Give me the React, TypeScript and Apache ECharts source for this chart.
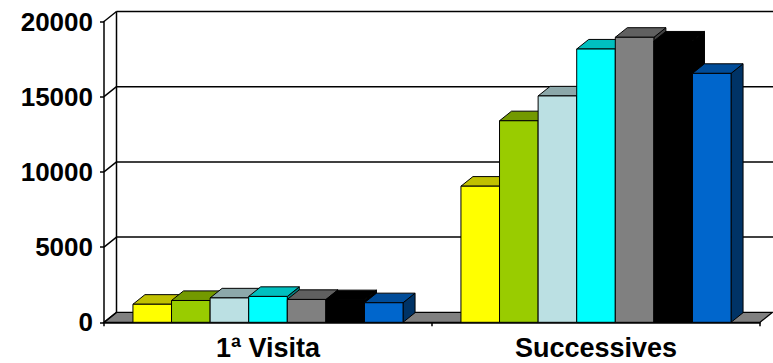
import React, { useEffect, useRef } from "react";
import * as echarts from "echarts";

const categories = ["1ª Visita", "Successives"];
const yTicks = [0, 5000, 10000, 15000, 20000];

const yellowValues = [1200, 9050];
const greenValues = [1450, 13400];
const lightBlueValues = [1620, 15050];
const cyanValues = [1720, 18170];
const grayValues = [1520, 18950];
const blackValues = [1500, 18700];
const blueValues = [1300, 16550];

const seriesList = [
  { name: "S1", values: yellowValues, front: "#FFFF00", top: "#C0C000", side: "#808000" },
  { name: "S2", values: greenValues, front: "#99CC00", top: "#739900", side: "#4D6600" },
  { name: "S3", values: lightBlueValues, front: "#BBE0E3", top: "#8CA8AA", side: "#5E7072" },
  { name: "S4", values: cyanValues, front: "#00FFFF", top: "#00BFBF", side: "#008080" },
  { name: "S5", values: grayValues, front: "#808080", top: "#606060", side: "#404040" },
  { name: "S6", values: blackValues, front: "#000000", top: "#000000", side: "#000000" },
  { name: "S7", values: blueValues, front: "#0066CC", top: "#004C99", side: "#003366" },
];

const DX = 12.5;
const DY = -10;
const FONT = "'Liberation Sans', Arial, Helvetica, sans-serif";

export default function App() {
  const ref = useRef<HTMLDivElement>(null);
  useEffect(() => {
    if (!ref.current) return;
    const chart = echarts.init(ref.current, undefined, { renderer: "svg" });
    const n = seriesList.length;

    const background = {
      type: "custom",
      z: 1,
      silent: true,
      clip: false,
      data: [[0, 0]],
      renderItem: (params: any, api: any) => {
        const cs = params.coordSys;
        const x0 = cs.x;
        const x1 = cs.x + cs.width;
        const yb = api.coord([0, 0])[1];
        const yTop = api.coord([0, yTicks[yTicks.length - 1]])[1];
        const line = { stroke: "#000", lineWidth: 1.5 };
        const children: any[] = [];
        children.push({
          type: "polygon",
          shape: { points: [[x0, yb], [x1, yb], [x1 + DX, yb + DY], [x0 + DX, yb + DY]] },
          style: { fill: "#808080", stroke: "#000", lineWidth: 1.2 },
        });
        yTicks.forEach((v) => {
          const y = api.coord([0, v])[1];
          children.push({
            type: "line",
            shape: { x1: x0, y1: y, x2: x0 + DX, y2: y + DY },
            style: line,
          });
          if (v > 0) {
            children.push({
              type: "line",
              shape: { x1: x0 + DX, y1: y + DY, x2: x1 + DX + 20, y2: y + DY },
              style: line,
            });
          }
        });
        children.push({
          type: "line",
          shape: { x1: x0 + DX, y1: yTop + DY, x2: x0 + DX, y2: yb + DY },
          style: line,
        });
        return { type: "group", children };
      },
    };

    const bars = seriesList.map((s, idx) => ({
      type: "custom",
      name: s.name,
      z: 3,
      clip: false,
      data: s.values.map((v, i) => [i, v]),
      renderItem: (params: any, api: any) => {
        const ci = api.value(0);
        const v = api.value(1);
        const c = api.coord([ci, v]);
        const base = api.coord([ci, 0]);
        const band = api.size([1, 0])[0];
        const bw = band / (n + 1.5);
        const left = c[0] - (n / 2) * bw + idx * bw;
        const right = left + bw;
        const yt = c[1];
        const yb = base[1];
        const dx = DX * 0.96;
        const dy = DY * 0.96;
        const st = { stroke: "#000", lineWidth: 1 };
        return {
          type: "group",
          children: [
            {
              type: "polygon",
              shape: { points: [[right, yb], [right + dx, yb + dy], [right + dx, yt + dy], [right, yt]] },
              style: { fill: s.side, ...st },
            },
            {
              type: "polygon",
              shape: { points: [[left, yt], [right, yt], [right + dx, yt + dy], [left + dx, yt + dy]] },
              style: { fill: s.top, ...st },
            },
            {
              type: "rect",
              shape: { x: left, y: yt, width: bw, height: yb - yt },
              style: { fill: s.front, ...st },
            },
          ],
        };
      },
    }));

    chart.setOption({
      animation: false,
      backgroundColor: "#fff",
      grid: { left: 104, right: 13, top: 21.5, bottom: 40.7 },
      xAxis: {
        type: "category",
        data: categories,
        axisLine: { show: true, lineStyle: { color: "#000", width: 1.5 } },
        axisTick: { show: true, length: 4, alignWithLabel: false, lineStyle: { color: "#000", width: 1.5 } },
        axisLabel: { color: "#000", fontSize: 27, fontWeight: "bold", fontFamily: FONT, margin: 12 },
        splitLine: { show: false },
      },
      yAxis: {
        type: "value",
        min: 0,
        max: 20000,
        interval: 5000,
        axisLine: { show: true, lineStyle: { color: "#000", width: 1.5 } },
        axisTick: { show: true, length: 4, lineStyle: { color: "#000", width: 1.5 } },
        axisLabel: {
          color: "#000",
          fontSize: 26,
          fontWeight: "bold",
          fontFamily: FONT,
          margin: 11,
          formatter: (v: number) => String(v),
        },
        splitLine: { show: false },
      },
      series: [background, ...bars],
    });
    return () => chart.dispose();
  }, []);
  return (
    <div
      ref={ref}
      style={{ position: "fixed", left: 0, top: 0, width: 773, height: 363, background: "#fff" }}
    />
  );
}
